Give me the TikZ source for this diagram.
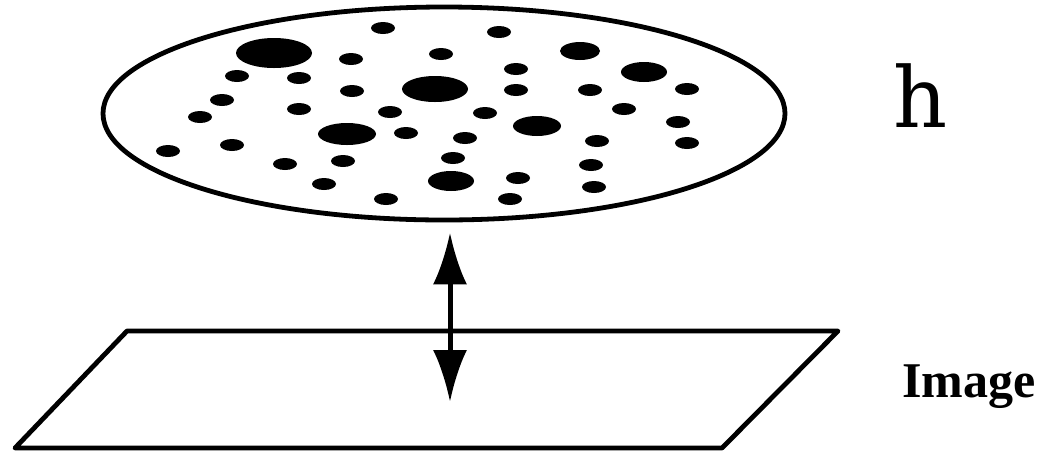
\documentclass[tikz,border=0pt]{standalone}
\usepackage{fontspec}
\newfontfamily\timesfont{Liberation Serif}
\newfontfamily\hfont{DejaVu Serif}
\usetikzlibrary{shapes.geometric,arrows.meta}

\tikzset{
  outline/.style={draw, line width=4.8pt},
  spot/.style={fill=black},
  label/.style={inner sep=0pt, anchor=base west}
}

\begin{document}
\begin{tikzpicture}[x=1pt, y=-1pt, >={Latex[length=52pt,width=34pt]}]
  \useasboundingbox (0,0) rectangle (1043,456);
  % hologram disc with particles
  \node[outline, ellipse, inner sep=0pt, minimum width=682pt, minimum height=213pt] (disc) at (444,113.5) {};
  \foreach \x/\y in {383/28, 499/32, 441/54, 351/59, 516/69, 237/76, 299/78,
      352/91, 516/90, 590/90, 687/89, 222/100, 299/109, 390/112, 485/113, 624/109,
      200/117, 678/122, 406/133, 465/138, 597/141, 687/143, 168/151, 232/145,
      453/158, 591/165, 285/164, 343/161, 518/178, 594/187, 324/184, 386/199, 510/199}
    \fill[spot] (\x,\y) ellipse [x radius=12, y radius=6];
  \foreach \x/\y/\rx/\ry in {274/53/38/15, 347/134/29/11, 435/89/33/13, 580/51/20/9,
      644/72/23/10, 537/126/24/10, 451/181/23/10}
    \fill[spot] (\x,\y) ellipse [x radius=\rx, y radius=\ry];
  % image plane
  \coordinate (p1) at (127,331);
  \coordinate (p2) at (838,331);
  \coordinate (p3) at (722,448);
  \coordinate (p4) at (15,448);
  \draw[outline, line join=round] (p1) -- (p2) -- (p3) -- (p4) -- cycle;
  \coordinate (tip) at (450,402);
  \draw[<->, line width=5pt, shorten <=10pt] (disc.south -| tip) -- (tip);
  % labels
  \node[label] (hlabel) at (893,127) {\hfont\fontsize{84}{84}\selectfont h};
  \node[label] (imglabel) at (902,397) {\timesfont\bfseries\fontsize{50}{50}\selectfont Image};
\end{tikzpicture}
\end{document}
